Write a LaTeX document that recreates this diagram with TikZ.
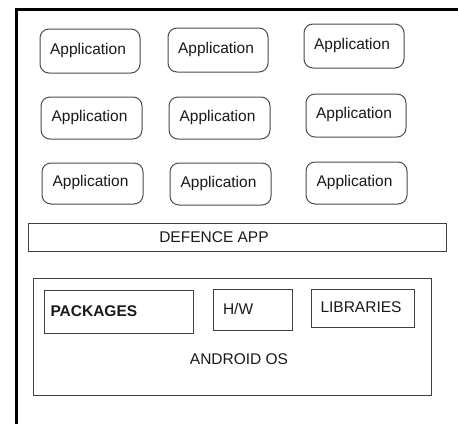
\documentclass[tikz,border=0pt]{standalone}
\usepackage{fontspec}
\setmainfont{Liberation Sans}
\begin{document}
\begin{tikzpicture}[x=1pt,y=-1pt,
  txt/.style={font=\fontsize{15.5}{18}\selectfont, text=black!90},
  appbox/.style={draw=black!70, line width=1pt, rounded corners=9pt},
  plainbox/.style={draw=black!75, line width=1pt},
]
\useasboundingbox (0,0) rectangle (458,424);
\fill[white] (0,0) rectangle (458,424);
% outer frame
\draw[line width=3pt] (16.5,424) -- (16.5,9) -- (458,9);
% application boxes
\foreach \n/\xa/\ya/\xb/\yb in {
  a1/40/29/140/73, a2/168/28/268/72, a3/304/24/404/68,
  b1/41/97/142/139, b2/169/97/270/139, b3/306/94/406/137,
  c1/42/163/143/204, c2/170/163/271/205, c3/306/162/407/204}{
  \draw[appbox] (\xa,\ya) rectangle (\xb,\yb);
  \node[txt] (\n) at ({(\xa+\xb)/2-2},{(\ya+\yb)/2-1}) {Application};
}
% defence app
\draw[plainbox] (28,223) rectangle (446,251);
\node[txt] (def) at (214,237.5) {DEFENCE APP};
% android os
\draw[plainbox] (33,278) rectangle (431,395);
\node[txt] (os) at (239,359) {ANDROID OS};
\draw[plainbox] (44,290) rectangle (193,333);
\node[txt, font=\fontsize{15.5}{18}\selectfont\bfseries, anchor=west] (pkg) at (47,311.5) {PACKAGES};
\draw[plainbox] (213,289) rectangle (292,330);
\node[txt, anchor=west] (hw) at (219.5,308.5) {H/W};
\draw[plainbox] (311,289) rectangle (414,327);
\node[txt] (lib) at (361,307) {LIBRARIES};
\end{tikzpicture}
\end{document}
